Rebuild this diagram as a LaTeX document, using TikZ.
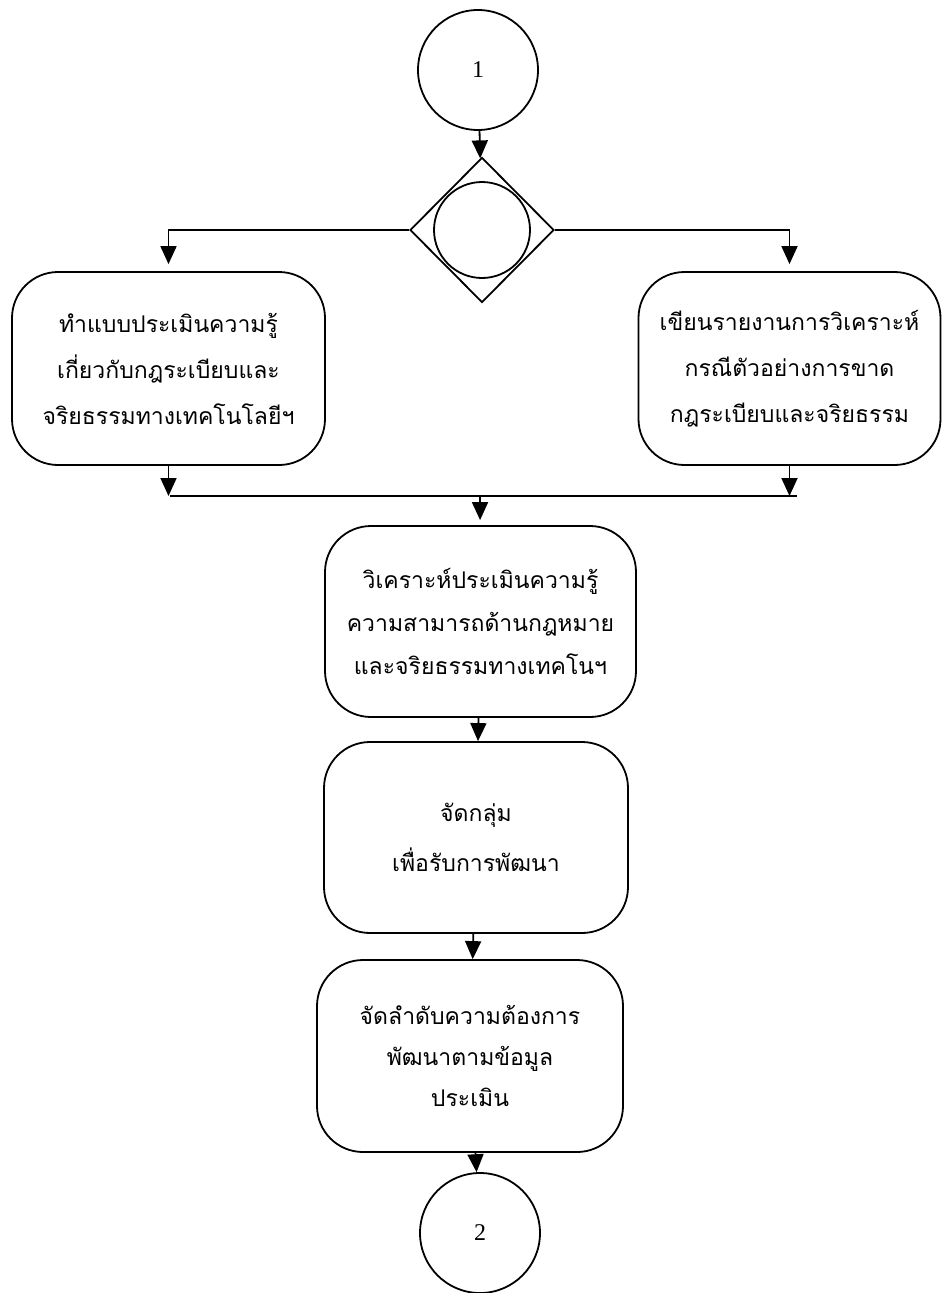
\documentclass[tikz,border=0pt]{standalone}
\usepackage{fontspec}
\setmainfont{Liberation Serif}
\newfontfamily\thaifont[Script=Thai]{Loma}
\usetikzlibrary{shapes.geometric,arrows.meta}
\begin{document}
\begin{tikzpicture}[x=1pt,y=-1pt,
  line width=1.8pt,
  conn/.style={-{Triangle[width=16pt,length=18pt]}},
  proc/.style={draw,rounded corners=46pt,inner sep=0pt,align=center,font=\thaifont\fontsize{23}{46}\selectfont},
  conncircle/.style={draw,circle,inner sep=0pt,font=\fontsize{24}{28}\selectfont},
  gate/.style={draw,diamond,inner sep=0pt,minimum width=144pt,minimum height=145pt}
]
\useasboundingbox (0,0) rectangle (943,1293);
\node[conncircle,minimum size=120pt] (c1) at (478,70) {1};
\node[gate] (dia) at (482,230) {};
\node[draw,circle,inner sep=0pt,minimum size=96pt] (dc) at (482,230) {};
\node[proc,minimum width=313pt,minimum height=193pt] (bL) at (168.5,368.5)
  {ทำแบบประเมินความรู้\\เกี่ยวกับกฎระเบียบและ\\จริยธรรมทางเทคโนโลยีฯ};
\node[proc,minimum width=302pt,minimum height=193pt] (bR) at (789.5,368.5)
  {เขียนรายงานการวิเคราะห์\\กรณีตัวอย่างการขาด\\กฎระเบียบและจริยธรรม};
\node[proc,minimum width=311pt,minimum height=191pt,font=\thaifont\fontsize{23}{43}\selectfont] (b3) at (480.5,621.5)
  {วิเคราะห์ประเมินความรู้\\ความสามารถด้านกฎหมาย\\และจริยธรรมทางเทคโนฯ};
\node[proc,minimum width=304pt,minimum height=191pt,font=\thaifont\fontsize{23}{50}\selectfont] (b4) at (476,837.5)
  {จัดกลุ่ม\\เพื่อรับการพัฒนา};
\node[proc,minimum width=306pt,minimum height=192pt,font=\thaifont\fontsize{23}{41}\selectfont] (b5) at (470,1056)
  {จัดลำดับความต้องการ\\พัฒนาตามข้อมูล\\ประเมิน};
\node[conncircle,minimum size=120pt] (c2) at (480,1233) {2};
\coordinate (jL) at (170,496);
\coordinate (jR) at (797,496);
\coordinate (jM) at (480,496);
\draw[conn] (c1) -- (dia);
\draw[conn,shorten >=7pt] (dia.west) -| (bL);
\draw[conn,shorten >=7pt] (dia.east) -| (bR);
\draw[conn] (bL.south) -- (bL.south |- jL);
\draw[conn] (bR.south) -- (bR.south |- jR);
\draw (jL) -- (jR);
\draw[conn,shorten >=5pt] (jM) -- (b3);
\draw[conn] (b3) -- (b4);
\draw[conn] (b4) -- (b5);
\draw[conn] (b5) -- (c2);
\end{tikzpicture}
\end{document}
